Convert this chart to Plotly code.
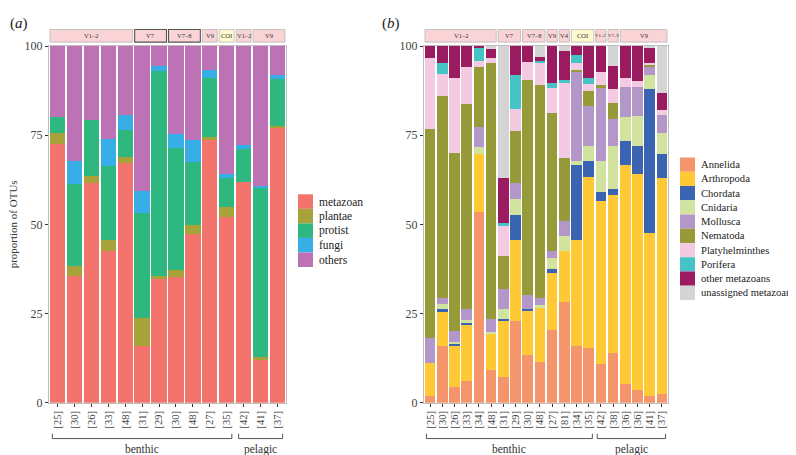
import plotly.graph_objects as go

W, H = 796, 455
SERIF = "Liberation Serif"

# ---------- panel (a): share of OTUs per kingdom ----------
a_samples = ["[25]", "[30]", "[26]", "[33]", "[48]", "[31]", "[29]", "[30]", "[48]",
             "[27]", "[35]", "[42]", "[41]", "[37]"]
a_markers = ["V1–2", "V7", "V7–8", "V9", "COI", "V1–2", "V9"]
a_marker_n = [5, 2, 2, 1, 1, 1, 2]
a_habitats = ["benthic", "pelagic"]
a_habitat_n = [11, 3]

a_cats = ["metazoan", "plantae", "protist", "fungi", "others"]
a_metazoan = [72.5, 35.4, 61.6, 42.5, 67.3, 15.8, 34.6, 35.1, 47.4, 73.6, 52.0, 62.0, 12.0, 77.1]
a_plantae = [3.0, 3.0, 1.9, 3.0, 1.5, 7.9, 0.8, 2.2, 2.5, 1.0, 3.0, 0.0, 0.8, 0.6]
a_protist = [4.5, 23.0, 15.8, 21.0, 7.7, 29.4, 57.5, 34.1, 17.7, 16.4, 8.0, 9.1, 47.4, 13.0]
a_fungi = [0.0, 6.3, 0.0, 7.3, 4.1, 6.3, 1.6, 4.0, 6.0, 2.2, 1.0, 1.1, 0.6, 1.1]
a_others = [20.0, 32.3, 20.7, 26.2, 19.4, 40.6, 5.5, 24.6, 26.4, 6.8, 36.0, 27.8, 39.2, 8.2]
a_colors = ["#F2746C", "#A7A33A", "#2EB77E", "#38AEE6", "#BE72B6"]

# ---------- panel (b): share of metazoan OTUs per phylum ----------
b_samples = ["[25]", "[30]", "[26]", "[33]", "[34]", "[48]", "[31]", "[29]", "[30]", "[48]",
             "[27]", "[81]", "[34]", "[35]", "[42]", "[38]", "[36]", "[36]", "[41]", "[37]"]
b_markers = ["V1–2", "V7", "V7–8", "V9", "V4", "COI", "V1–2", "V7–9", "V9"]
b_marker_n = [6, 2, 2, 1, 1, 2, 1, 1, 4]
b_habitats = ["benthic", "pelagic"]
b_habitat_n = [14, 6]

b_cats = ["Annelida", "Arthropoda", "Chordata", "Cnidaria", "Mollusca", "Nematoda",
          "Platyhelminthes", "Porifera", "other metazoans", "unassigned metazoans"]
b_annelida = [1.9, 15.8, 4.3, 6.2, 53.6, 9.2, 7.3, 22.8, 13.4, 11.3, 20.4, 28.1, 16.0, 15.4, 10.9, 14.0, 5.2, 3.6, 1.8, 2.5]
b_arthropoda = [9.2, 9.6, 11.8, 15.7, 16.0, 10.0, 15.7, 22.9, 12.3, 15.3, 16.0, 14.3, 29.7, 47.8, 45.7, 44.2, 61.4, 60.5, 45.8, 60.5]
b_chordata = [0.0, 0.9, 0.5, 0.7, 0.0, 0.0, 0.5, 6.8, 0.6, 0.0, 1.2, 0.0, 20.9, 4.6, 2.4, 1.8, 6.8, 7.9, 40.3, 6.8]
b_cnidaria = [0.0, 1.3, 0.5, 0.5, 2.0, 0.7, 2.9, 4.6, 0.0, 0.8, 3.0, 4.2, 1.2, 4.2, 8.8, 12.0, 6.8, 8.4, 4.0, 5.8]
b_mollusca = [7.0, 1.8, 3.1, 3.2, 5.6, 3.5, 5.5, 4.5, 4.0, 2.0, 2.0, 4.3, 24.8, 11.3, 20.5, 7.5, 8.4, 8.2, 2.3, 5.0]
b_nematoda = [58.7, 56.5, 49.8, 57.5, 17.0, 71.9, 9.1, 14.5, 60.3, 59.8, 38.7, 17.8, 0.7, 4.1, 0.9, 4.5, 0.0, 0.0, 0.4, 0.0]
b_platy = [19.7, 6.2, 21.0, 10.4, 1.7, 1.2, 8.8, 6.3, 5.0, 6.2, 7.0, 21.0, 2.0, 2.0, 3.6, 4.0, 2.4, 1.5, 0.7, 1.4]
b_porifera = [0.0, 3.0, 0.0, 0.0, 3.5, 0.0, 0.5, 9.5, 0.0, 0.4, 1.2, 0.7, 2.3, 1.6, 0.0, 0.0, 0.0, 0.0, 0.0, 0.0]
b_other = [3.5, 4.9, 9.0, 5.8, 0.6, 2.6, 12.7, 8.1, 4.4, 1.1, 10.5, 8.3, 2.4, 9.0, 7.2, 6.4, 9.0, 9.9, 4.2, 4.8]
b_unassigned = [0.0, 0.0, 0.0, 0.0, 0.0, 0.9, 37.0, 0.0, 0.0, 3.1, 0.0, 1.3, 0.0, 0.0, 0.0, 5.6, 0.0, 0.0, 0.5, 13.2]
b_colors = ["#F5956B", "#FEC935", "#3A63B1", "#D2E3A0", "#B497C9", "#979A38",
            "#F3CAE2", "#45C3C6", "#9A1B60", "#D4D4D4"]

a_values = [a_metazoan, a_plantae, a_protist, a_fungi, a_others]
b_values = [b_annelida, b_arthropoda, b_chordata, b_cnidaria, b_mollusca, b_nematoda,
            b_platy, b_porifera, b_other, b_unassigned]


def px_x(v):
    return v / W


def px_y(v):
    return 1 - v / H


fig = go.Figure()

a_x = list(range(len(a_samples)))
b_x = list(range(len(b_samples)))
for cat, vals, col in zip(a_cats, a_values, a_colors):
    fig.add_trace(go.Bar(x=a_x, y=vals, name=cat, marker=dict(color=col, line_width=0),
                         width=0.9, xaxis="x", yaxis="y", showlegend=False))
for cat, vals, col in zip(b_cats, b_values, b_colors):
    fig.add_trace(go.Bar(x=b_x, y=vals, name=cat, marker=dict(color=col, line_width=0),
                         width=0.88, xaxis="x2", yaxis="y2", showlegend=False))

y_dom = [px_y(400), px_y(32)]
axis_common = dict(showgrid=False, zeroline=False, showline=True, mirror=True,
                   linecolor="#BDBDBD", linewidth=1, ticks="outside", ticklen=3,
                   tickcolor="#333333", tickwidth=1,
                   tickfont=dict(family=SERIF, size=12, color="#444444"))
xcommon = dict(axis_common, tickangle=-90, tickfont=dict(family=SERIF, size=10.5, color="#444444"))

fig.update_layout(
    width=W, height=H, barmode="stack",
    margin=dict(l=0, r=0, t=0, b=0),
    paper_bgcolor="white", plot_bgcolor="white",
    xaxis=dict(xcommon, domain=[px_x(41), px_x(278)], range=[-0.5, len(a_samples) - 0.5],
               tickvals=a_x, ticktext=a_samples, anchor="y"),
    yaxis=dict(axis_common, domain=y_dom, range=[0, 100], tickvals=[0, 25, 50, 75, 100],
               anchor="x"),
    xaxis2=dict(xcommon, domain=[px_x(416), px_x(660)], range=[-0.5, len(b_samples) - 0.5],
                tickvals=b_x, ticktext=b_samples, anchor="y2"),
    yaxis2=dict(axis_common, domain=y_dom, range=[0, 100], tickvals=[0, 25, 50, 75, 100],
                anchor="x2"),
)

shapes = []
annotations = []


def add_strips(xref, markers, counts, gap, dark=(), small=6.5, tiny=6.5):
    start = 0
    for i, (lab, n) in enumerate(zip(markers, counts)):
        fill = "#FFFACD" if lab == "COI" else "#F9D3D5"
        border = "#555555" if i in dark else "#B8B8B8"
        shapes.append(dict(type="rect", xref=xref, yref="paper",
                           x0=start - 0.5 + gap, x1=start + n - 0.5 - gap,
                           y0=px_y(28), y1=px_y(15), fillcolor=fill,
                           line=dict(color=border, width=1.1 if i in dark else 0.8)))
        size = tiny if (n == 1 and len(lab) > 2) else small
        annotations.append(dict(x=start + (n - 1) / 2, y=px_y(21.5), xref=xref, yref="paper",
                                text=lab, showarrow=False, xanchor="center", yanchor="middle",
                                font=dict(family=SERIF, size=size, color="#333333")))
        start += n


def add_brackets(xref, habitats, counts):
    start = 0
    for lab, n in zip(habitats, counts):
        x0, x1 = start - 0.3, start + n - 0.7
        shapes.append(dict(type="path", xref=xref, yref="paper",
                           path=f"M {x0},{px_y(432)} L {x0},{px_y(437)} L {x1},{px_y(437)} L {x1},{px_y(432)}",
                           line=dict(color="#555555", width=1)))
        annotations.append(dict(x=(x0 + x1) / 2, y=px_y(448), xref=xref, yref="paper",
                                text=lab, showarrow=False, xanchor="center", yanchor="middle",
                                font=dict(family=SERIF, size=11.5, color="#333333")))
        start += n


def add_legend(cats, colors, x_key, y_top, step, key_h, size):
    for i, (cat, col) in enumerate(zip(cats, colors)):
        y0 = y_top + step * i
        shapes.append(dict(type="rect", xref="paper", yref="paper",
                           x0=px_x(x_key), x1=px_x(x_key + 15), y0=px_y(y0 + key_h), y1=px_y(y0),
                           fillcolor=col, line_width=0))
        annotations.append(dict(x=px_x(x_key + 19), y=px_y(y0 + key_h / 2), xref="paper", yref="paper",
                                text=cat, showarrow=False, xanchor="left", yanchor="middle",
                                font=dict(family=SERIF, size=size, color="#222222")))


add_strips("x", a_markers, a_marker_n, 0.06, dark=(1, 2))
add_strips("x2", b_markers, b_marker_n, 0.08, tiny=4.8)
add_brackets("x", a_habitats, a_habitat_n)
add_brackets("x2", b_habitats, b_habitat_n)
add_legend(a_cats, a_colors, 290, 185, 15, 15, 11.5)
add_legend(b_cats, b_colors, 672, 147, 14.7, 14.7, 10.6)

annotations.append(dict(x=px_x(0), y=px_y(9), xref="paper", yref="paper", text="(<i>a</i>)",
                        showarrow=False, xanchor="left", yanchor="middle",
                        font=dict(family=SERIF, size=15, color="#222222")))
annotations.append(dict(x=px_x(372), y=px_y(9), xref="paper", yref="paper", text="(<i>b</i>)",
                        showarrow=False, xanchor="left", yanchor="middle",
                        font=dict(family=SERIF, size=15, color="#222222")))
annotations.append(dict(x=px_x(5), y=px_y(216), xref="paper", yref="paper",
                        text="proportion of OTUs", textangle=-90, showarrow=False,
                        xanchor="center", yanchor="middle",
                        font=dict(family=SERIF, size=11, color="#333333")))

fig.update_layout(shapes=shapes, annotations=annotations)
fig.write_html("out.html")
